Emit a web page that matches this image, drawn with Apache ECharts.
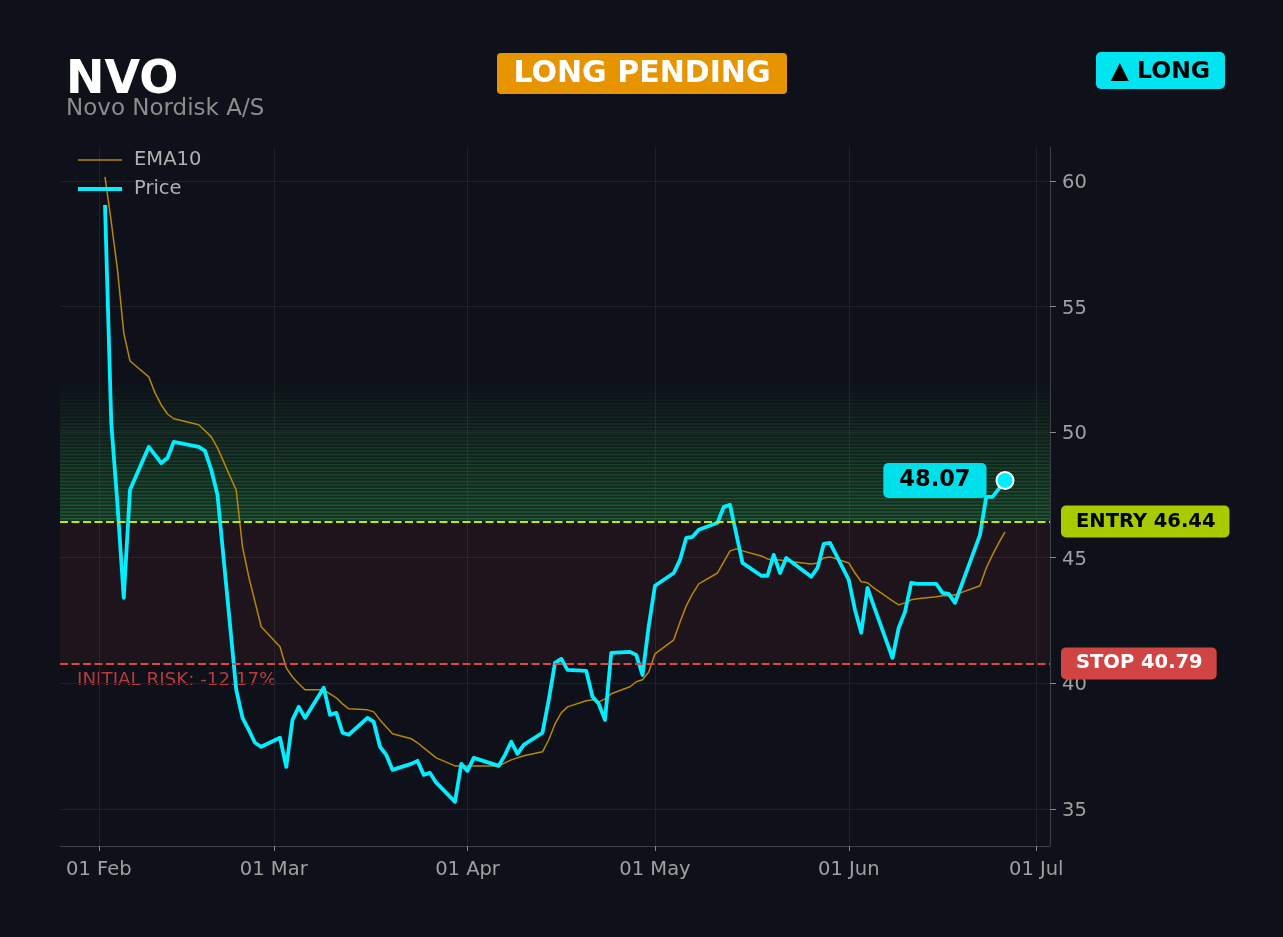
<!DOCTYPE html>
<html>
<head>
<meta charset="utf-8">
<script src="https://cdn.jsdelivr.net/npm/echarts@6/dist/echarts.min.js"></script>
<style>
html,body{margin:0;padding:0;background:#0e1119;}
#chart{width:1283px;height:937px;}
</style>
</head>
<body>
<div id="chart"></div>
<script>
// ---------- DATA ----------
const dates = [
 '2026-02-02','2026-02-03','2026-02-04','2026-02-05','2026-02-06',
 '2026-02-09','2026-02-10','2026-02-11','2026-02-12','2026-02-13',
 '2026-02-17','2026-02-18','2026-02-19','2026-02-20',
 '2026-02-23','2026-02-24','2026-02-25','2026-02-26','2026-02-27',
 '2026-03-02','2026-03-03','2026-03-04','2026-03-05','2026-03-06',
 '2026-03-09','2026-03-10','2026-03-11','2026-03-12','2026-03-13',
 '2026-03-16','2026-03-17','2026-03-18','2026-03-19','2026-03-20',
 '2026-03-23','2026-03-24','2026-03-25','2026-03-26','2026-03-27',
 '2026-03-30','2026-03-31','2026-04-01','2026-04-02',
 '2026-04-06','2026-04-07','2026-04-08','2026-04-09','2026-04-10',
 '2026-04-13','2026-04-14','2026-04-15','2026-04-16','2026-04-17',
 '2026-04-20','2026-04-21','2026-04-22','2026-04-23','2026-04-24',
 '2026-04-27','2026-04-28','2026-04-29','2026-04-30','2026-05-01',
 '2026-05-04','2026-05-05','2026-05-06','2026-05-07','2026-05-08',
 '2026-05-11','2026-05-12','2026-05-13','2026-05-14','2026-05-15',
 '2026-05-18','2026-05-19','2026-05-20','2026-05-21','2026-05-22',
 '2026-05-26','2026-05-27','2026-05-28','2026-05-29',
 '2026-06-01','2026-06-02','2026-06-03','2026-06-04','2026-06-05',
 '2026-06-08','2026-06-09','2026-06-10','2026-06-11','2026-06-12',
 '2026-06-15','2026-06-16','2026-06-17','2026-06-18',
 '2026-06-22','2026-06-23','2026-06-24','2026-06-25','2026-06-26'
];
const price = [
 59.04,50.37,47.10,43.40,47.70,
 49.41,49.09,48.77,48.97,49.61,
 49.41,49.25,48.50,47.50,
 39.74,38.62,38.14,37.63,37.47,
 37.83,36.67,38.54,39.06,38.62,
 39.82,38.74,38.82,38.03,37.95,
 38.62,38.46,37.47,37.15,36.55,
 36.79,36.91,36.35,36.43,36.04,
 35.28,36.79,36.51,37.03,
 36.71,37.15,37.67,37.19,37.55,
 38.03,39.34,40.81,40.97,40.53,
 40.49,39.46,39.18,38.54,41.21,
 41.25,41.13,40.33,42.28,43.88,
 44.39,44.91,45.79,45.83,46.11,
 46.39,47.02,47.10,45.95,44.79,
 44.28,44.28,45.11,44.39,44.99,
 44.24,44.59,45.55,45.59,
 44.12,42.92,42.01,43.80,43.08,
 41.01,42.21,42.84,44.00,43.96,
 43.96,43.60,43.56,43.20,
 45.91,47.42,47.42,47.74,48.07
];
const ema10 = [
 60.16,58.37,56.46,53.95,52.83,
 52.20,51.56,51.08,50.72,50.53,
 50.29,50.05,49.81,49.37,
 47.68,45.43,44.24,43.24,42.25,
 41.45,40.61,40.25,39.98,39.74,
 39.74,39.58,39.42,39.18,38.98,
 38.94,38.86,38.54,38.26,37.99,
 37.79,37.63,37.43,37.23,37.03,
 36.71,36.71,36.71,36.71,
 36.71,36.83,36.95,37.03,37.11,
 37.27,37.75,38.38,38.82,39.06,
 39.30,39.34,39.26,39.38,39.58,
 39.86,40.06,40.14,40.45,41.17,
 41.73,42.44,43.08,43.56,43.96,
 44.39,44.83,45.27,45.35,45.27,
 45.07,44.95,44.91,44.91,44.87,
 44.75,44.79,44.99,45.03,
 44.79,44.39,44.04,44.00,43.80,
 43.28,43.12,43.20,43.32,43.36,
 43.44,43.48,43.48,43.52,
 43.88,44.59,45.11,45.59,46.03
];
const ENTRY = 46.44;
const STOP = 40.79;
const LAST_PRICE = 48.07;
const FILL_BASE = 34.79;
const BAND_TOP = 52.1;
const yTicks = [35, 40, 45, 50, 55, 60];
const xTickDates = ['2026-02-01','2026-03-01','2026-04-01','2026-05-01','2026-06-01','2026-07-01'];
const xTickLabels = ['01 Feb','01 Mar','01 Apr','01 May','01 Jun','01 Jul'];

// ---------- HELPERS ----------
const FONT = 'DejaVu Sans';
const DAY = 86400000;
function ts(s){const p=s.split('-').map(Number);return Date.UTC(p[0],p[1]-1,p[2]);}
const xs = dates.map(ts);
const xTicks = xTickDates.map(ts);
const xMin = xs[0] - 7.2*DAY;
const xMax = xs[xs.length-1] + 7.2*DAY;

// green target band as fading stripes
const bandAreas = [];
bandAreas.push([
  {yAxis: ENTRY, itemStyle:{color: new echarts.graphic.LinearGradient(0,0,0,1,[
    {offset:0,color:'rgba(40,150,65,0)'},{offset:1,color:'rgba(40,150,65,0.26)'}])}},
  {yAxis: BAND_TOP}
]);
const N = 42;
const step = (BAND_TOP - ENTRY)/N;
for (let i=0;i<N;i++){
  const a = 0.32*(1 - i/N);
  bandAreas.push([
    {yAxis: ENTRY + i*step + step*0.6, itemStyle:{color:'rgba(60,175,85,'+a.toFixed(3)+')'}},
    {yAxis: ENTRY + (i+1)*step}
  ]);
}
bandAreas.push([
  {yAxis: STOP, itemStyle:{color:'rgba(235,75,60,0.08)'}},
  {yAxis: ENTRY}
]);

const chart = echarts.init(document.getElementById('chart'), null, {renderer:'canvas'});
const option = {
  backgroundColor:'#0e1119',
  animation:false,
  textStyle:{fontFamily:FONT},
  grid:{left:60,right:233,top:147,bottom:91,containLabel:false,outerBoundsMode:'none'},
  legend:{
    data:[
      {name:'EMA10', lineStyle:{width:1.5}},
      {name:'Price', lineStyle:{width:4}}
    ],
    orient:'vertical', left:76, top:150, padding:0,
    itemWidth:44, itemHeight:14, itemGap:9,
    itemStyle:{opacity:0},
    textStyle:{color:'#b0b0b0', fontSize:19.5, fontFamily:FONT, padding:[0,0,0,7]}
  },
  xAxis:{
    type:'value', min:xMin, max:xMax, scale:true,
    axisLine:{show:true,lineStyle:{color:'#3d4047',width:1}},
    axisTick:{show:true,length:5,customValues:xTicks,lineStyle:{color:'#8a8a8a'}},
    axisLabel:{customValues:xTicks,color:'#a0a0a0',fontSize:19.5,fontFamily:FONT,margin:14,
      formatter:function(v){const i=xTicks.indexOf(v);return i>=0?xTickLabels[i]:'';}},
    splitLine:{show:true,lineStyle:{color:'#1f2229',width:1}}
  },
  yAxis:{
    type:'value', position:'right', min:33.52, max:61.35, scale:true,
    axisLine:{show:true,lineStyle:{color:'#3d4047',width:1}},
    axisTick:{show:true,length:6,customValues:yTicks,lineStyle:{color:'#8a8a8a'}},
    axisLabel:{customValues:yTicks,color:'#a0a0a0',fontSize:19.5,fontFamily:FONT,margin:12,
      formatter:'{a|{value}}',
      rich:{a:{color:'#a0a0a0',fontSize:19.5,fontFamily:FONT,padding:[4,0,0,0]}}},
    splitLine:{show:true,lineStyle:{color:'#1f2229',width:1}}
  },
  series:[
    {
      name:'_base', type:'line', stack:'fill', silent:true, symbol:'none',
      data: xs.map((x)=>[x, FILL_BASE]),
      lineStyle:{width:0}, z:1,
      markArea:{silent:true, data:bandAreas}
    },
    {
      name:'_fill', type:'line', stack:'fill', silent:true, symbol:'none',
      data: xs.map((x,i)=>[x, +(price[i]-FILL_BASE).toFixed(2)]),
      lineStyle:{width:0}, z:1,
      areaStyle:{color:'rgba(0,229,255,0.045)'}
    },
    {
      name:'EMA10', type:'line', symbol:'none', z:3,
      data: xs.map((x,i)=>[x, ema10[i]]),
      itemStyle:{color:'#b8860b'},
      lineStyle:{color:'#b8860b', width:1.5}
    },
    {
      name:'Price', type:'line', symbol:'none', z:4,
      data: xs.map((x,i)=>[x, price[i]]),
      itemStyle:{color:'#00eeff'},
      lineStyle:{color:'#00eeff', width:3.8, join:'round'},
      markLine:{
        silent:true, symbol:'none',
        data:[
          {yAxis:ENTRY, lineStyle:{color:'#c8e600',width:2.2,type:[8,3.5]},
           label:{show:true,position:'end',distance:11,formatter:'ENTRY '+ENTRY.toFixed(2),
             backgroundColor:'#a6cc00',color:'#000',fontWeight:'bold',fontSize:19.5,fontFamily:FONT,
             padding:[6,14,6,15],borderRadius:5}},
          {yAxis:STOP, lineStyle:{color:'#e04444',width:2.2,type:[8,3.5]},
           label:{show:true,position:'end',distance:11,formatter:'STOP '+STOP.toFixed(2),
             backgroundColor:'#d04444',color:'#fff',fontWeight:'bold',fontSize:19.5,fontFamily:FONT,
             padding:[6,14,6,15],borderRadius:5}}
        ]
      },
      markPoint:{
        silent:true,
        data:[{coord:[xs[xs.length-1], LAST_PRICE]}],
        symbol:'circle', symbolSize:17,
        itemStyle:{color:'#00eeff', borderColor:'#ffffff', borderWidth:2},
        label:{show:true, position:'left', distance:9, formatter:LAST_PRICE.toFixed(2),
          backgroundColor:'#00e0ea', color:'#000', fontWeight:'bold', fontSize:22.5, fontFamily:FONT,
          padding:[6,16,6,16], borderRadius:5}
      }
    }
  ],
  graphic:[
    {type:'text', x:66, y:81, style:{text:'NVO', fill:'#ffffff', font:'bold 46px "DejaVu Sans"', verticalAlign:'middle', align:'left'}},
    {type:'text', x:66, y:109, style:{text:'Novo Nordisk A/S', fill:'#8c8c8c', font:'23px "DejaVu Sans"', verticalAlign:'middle', align:'left'}},
    {type:'rect', shape:{x:497,y:53,width:290,height:41,r:4}, style:{fill:'#e69500'}},
    {type:'text', x:642, y:74, style:{text:'LONG PENDING', fill:'#ffffff', font:'bold 30px "DejaVu Sans"', verticalAlign:'middle', align:'center'}},
    {type:'rect', shape:{x:1096,y:52,width:129,height:37,r:5}, style:{fill:'#00e5f0'}},
    {type:'text', x:1160.5, y:72, style:{text:'▲ LONG', fill:'#000000', font:'bold 23.5px "DejaVu Sans"', verticalAlign:'middle', align:'center'}},
    {type:'text', x:77, y:680, style:{text:'INITIAL RISK: -12.17%', fill:'#b9393d', font:'18.3px "DejaVu Sans"', verticalAlign:'middle', align:'left'}}
  ]
};
chart.setOption(option);
</script>
</body>
</html>
